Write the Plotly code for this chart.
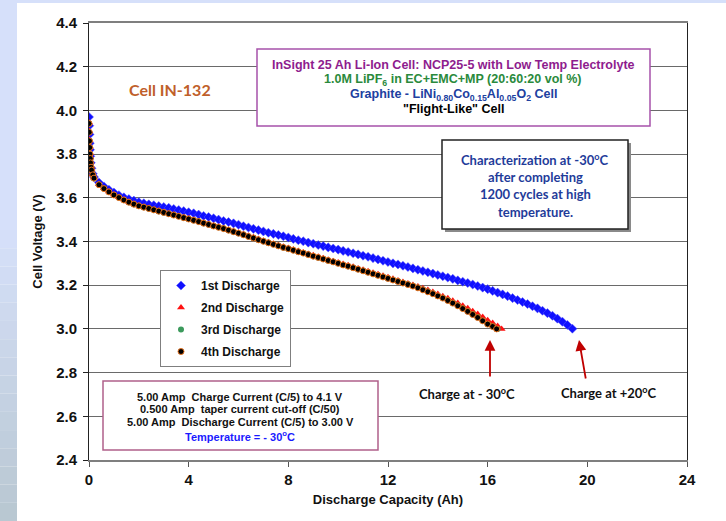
import plotly.graph_objects as go

# ---------------- data ----------------
cap_1st = [0.00, 0.01, 0.02, 0.03, 0.04, 0.05, 0.07, 0.10, 0.15, 0.20,
           0.4, 0.6, 0.8, 1.0, 1.2, 1.4, 1.6, 1.8, 2.0, 2.2, 2.4, 2.6, 2.8, 3.0,
           3.2, 3.4, 3.6, 3.8, 4.0, 4.2, 4.4, 4.6, 4.8, 5.0, 5.2, 5.4, 5.6, 5.8,
           6.0, 6.2, 6.4, 6.6, 6.8, 7.0, 7.2, 7.4, 7.6, 7.8, 8.0, 8.2, 8.4, 8.6,
           8.8, 9.0, 9.2, 9.4, 9.6, 9.8, 10.0, 10.2, 10.4, 10.6, 10.8, 11.0, 11.2,
           11.4, 11.6, 11.8, 12.0, 12.2, 12.4, 12.6, 12.8, 13.0, 13.2, 13.4, 13.6,
           13.8, 14.0, 14.2, 14.4, 14.6, 14.8, 15.0, 15.2, 15.4, 15.6, 15.8, 16.0,
           16.2, 16.4, 16.6, 16.8, 17.0, 17.2, 17.4, 17.6, 17.8, 18.0, 18.2, 18.4,
           18.6, 18.8, 19.0, 19.2, 19.4]
volt_1st = [3.970, 3.930, 3.890, 3.850, 3.820, 3.790, 3.760, 3.735, 3.710, 3.695,
            3.670, 3.652, 3.637, 3.624, 3.612, 3.602, 3.594, 3.587, 3.580, 3.575,
            3.570, 3.566, 3.562, 3.558, 3.554, 3.549, 3.544, 3.539, 3.534, 3.529,
            3.523, 3.517, 3.512, 3.506, 3.500, 3.494, 3.489, 3.483, 3.477, 3.470,
            3.464, 3.458, 3.452, 3.446, 3.440, 3.435, 3.430, 3.424, 3.418, 3.412,
            3.406, 3.401, 3.395, 3.390, 3.384, 3.379, 3.373, 3.368, 3.363, 3.357,
            3.352, 3.346, 3.341, 3.335, 3.330, 3.324, 3.318, 3.312, 3.306, 3.300,
            3.295, 3.289, 3.283, 3.277, 3.271, 3.265, 3.259, 3.253, 3.247, 3.241,
            3.235, 3.229, 3.222, 3.216, 3.210, 3.203, 3.196, 3.189, 3.182, 3.174,
            3.166, 3.158, 3.150, 3.141, 3.132, 3.123, 3.114, 3.104, 3.094, 3.083,
            3.072, 3.060, 3.047, 3.033, 3.018, 3.001]

cap_cold = [0.00, 0.01, 0.02, 0.03, 0.04, 0.05, 0.06, 0.08, 0.10, 0.15, 0.20,
            0.4, 0.6, 0.8, 1.0, 1.2, 1.4, 1.6, 1.8, 2.0, 2.2, 2.4, 2.6, 2.8, 3.0,
            3.2, 3.4, 3.6, 3.8, 4.0, 4.2, 4.4, 4.6, 4.8, 5.0, 5.2, 5.4, 5.6, 5.8,
            6.0, 6.2, 6.4, 6.6, 6.8, 7.0, 7.2, 7.4, 7.6, 7.8, 8.0, 8.2, 8.4, 8.6,
            8.8, 9.0, 9.2, 9.4, 9.6, 9.8, 10.0, 10.2, 10.4, 10.6, 10.8, 11.0, 11.2,
            11.4, 11.6, 11.8, 12.0, 12.2, 12.4, 12.6, 12.8, 13.0, 13.2, 13.4, 13.6,
            13.8, 14.0, 14.2, 14.4, 14.6, 14.8, 15.0, 15.2, 15.4, 15.6, 15.8, 16.0,
            16.2]
cap_2nd_end = [16.4, 16.56]
cap_3rd_end = [16.4]
cap_4th_end = [16.36]

volt_2nd = [3.945, 3.905, 3.865, 3.835, 3.805, 3.785, 3.765, 3.745, 3.730, 3.707,
            3.692, 3.662, 3.644, 3.629, 3.615, 3.603, 3.592, 3.582, 3.573, 3.565,
            3.559, 3.553, 3.547, 3.541, 3.535, 3.529, 3.523, 3.517, 3.511, 3.505,
            3.499, 3.493, 3.486, 3.480, 3.473, 3.467, 3.461, 3.454, 3.447, 3.440,
            3.433, 3.426, 3.419, 3.411, 3.404, 3.397, 3.390, 3.383, 3.376, 3.370,
            3.363, 3.356, 3.350, 3.343, 3.337, 3.330, 3.323, 3.317, 3.310, 3.304,
            3.297, 3.291, 3.284, 3.277, 3.271, 3.264, 3.257, 3.250, 3.243, 3.236,
            3.229, 3.222, 3.215, 3.208, 3.201, 3.194, 3.186, 3.178, 3.169, 3.160,
            3.150, 3.140, 3.129, 3.118, 3.106, 3.094, 3.081, 3.068, 3.054, 3.040,
            3.027, 3.013, 3.000]
volt_3rd = [3.940, 3.900, 3.860, 3.830, 3.800, 3.780, 3.760, 3.740, 3.727, 3.705,
            3.690, 3.660, 3.642, 3.627, 3.613, 3.601, 3.590, 3.580, 3.571, 3.563,
            3.557, 3.551, 3.545, 3.539, 3.533, 3.527, 3.521, 3.515, 3.509, 3.503,
            3.497, 3.491, 3.484, 3.478, 3.471, 3.465, 3.459, 3.452, 3.445, 3.438,
            3.431, 3.423, 3.416, 3.408, 3.401, 3.394, 3.387, 3.380, 3.373, 3.367,
            3.360, 3.353, 3.347, 3.340, 3.333, 3.327, 3.320, 3.313, 3.307, 3.300,
            3.293, 3.287, 3.280, 3.273, 3.266, 3.259, 3.252, 3.245, 3.239, 3.232,
            3.225, 3.218, 3.211, 3.204, 3.197, 3.189, 3.180, 3.171, 3.162, 3.152,
            3.142, 3.131, 3.120, 3.108, 3.095, 3.082, 3.068, 3.054, 3.039, 3.024,
            3.012, 3.000]
volt_4th = [3.940, 3.900, 3.860, 3.830, 3.800, 3.780, 3.760, 3.740, 3.727, 3.705,
            3.690, 3.660, 3.642, 3.627, 3.613, 3.601, 3.590, 3.580, 3.571, 3.563,
            3.557, 3.551, 3.545, 3.539, 3.533, 3.527, 3.521, 3.515, 3.509, 3.503,
            3.497, 3.491, 3.484, 3.478, 3.471, 3.465, 3.459, 3.452, 3.445, 3.438,
            3.431, 3.423, 3.416, 3.408, 3.401, 3.394, 3.387, 3.380, 3.373, 3.367,
            3.360, 3.353, 3.347, 3.340, 3.333, 3.327, 3.320, 3.313, 3.307, 3.300,
            3.293, 3.287, 3.280, 3.273, 3.266, 3.259, 3.252, 3.245, 3.238, 3.231,
            3.224, 3.217, 3.210, 3.203, 3.196, 3.188, 3.179, 3.170, 3.161, 3.151,
            3.141, 3.130, 3.118, 3.106, 3.093, 3.080, 3.066, 3.052, 3.037, 3.022,
            3.011, 3.000]

series_names = ["1st Discharge", "2nd Discharge", "3rd Discharge", "4th Discharge"]
x_ticks = [0, 4, 8, 12, 16, 20, 24]
y_ticks = [2.4, 2.6, 2.8, 3.0, 3.2, 3.4, 3.6, 3.8, 4.0, 4.2, 4.4]

# ---------------- layout helpers (pixel -> paper) ----------------
W, H = 726, 521
L, R, T, B = 89, 687, 23, 460
def px(x):
    return (x - L) / (R - L)
def py(y):
    return (B - y) / (B - T)

ARIAL = "Liberation Sans, Arial, sans-serif"
CAL = "Lato, Carlito, Calibri, sans-serif"

fig = go.Figure()

fig.add_trace(go.Scatter(
    x=cap_1st, y=volt_1st, mode="markers", name="<b>" + series_names[0] + "</b>",
    legendgroup="a",
    marker=dict(symbol="diamond", size=7, color="#1010ff",
                line=dict(width=0.5, color="#5a5aff"))))
fig.add_trace(go.Scatter(
    x=cap_cold + cap_2nd_end, y=volt_2nd, mode="markers",
    name="<b>" + series_names[1] + "</b>", legendgroup="b",
    marker=dict(symbol="triangle-up", size=7, color="#ff1010")))
fig.add_trace(go.Scatter(
    x=cap_cold + cap_3rd_end, y=volt_3rd, mode="markers",
    name="<b>" + series_names[2] + "</b>", legendgroup="c",
    marker=dict(symbol="circle", size=6, color="#3c9a5c")))
fig.add_trace(go.Scatter(
    x=cap_cold + cap_4th_end, y=volt_4th, mode="markers",
    name="<b>" + series_names[3] + "</b>", legendgroup="d",
    marker=dict(symbol="circle", size=6, color="#000000",
                line=dict(width=1, color="#e8731e"))))

shapes = []
# background frame (light blue strips on top and left)
shapes.append(dict(type="rect", xref="paper", yref="paper", layer="below",
                   x0=px(0), x1=px(W), y0=py(0), y1=py(3),
                   fillcolor="#d6e0fa", line=dict(width=0)))
top_c = (214, 224, 250)
bot_c = (184, 199, 209)
nb = 16
y_start = 230
shapes.append(dict(type="rect", xref="paper", yref="paper", layer="below",
                   x0=px(0), x1=px(17), y0=py(y_start), y1=py(0),
                   fillcolor="#d6e0fa", line=dict(width=0)))
for i in range(nb):
    y0 = y_start + (H - y_start) * i / nb
    y1 = y_start + (H - y_start) * (i + 1) / nb
    f = (i + 0.5) / nb
    c = tuple(int(round(top_c[k] + (bot_c[k] - top_c[k]) * f)) for k in range(3))
    shapes.append(dict(type="rect", xref="paper", yref="paper", layer="below",
                       x0=px(0), x1=px(17), y0=py(y1), y1=py(y0),
                       fillcolor="rgb(%d,%d,%d)" % c, line=dict(width=0)))

# title box
shapes.append(dict(type="rect", xref="paper", yref="paper", layer="above",
                   x0=px(257), x1=px(650), y0=py(126), y1=py(49),
                   fillcolor="white", line=dict(color="#a652ab", width=1.5)))
# characterization box with shadow
shapes.append(dict(type="rect", xref="paper", yref="paper", layer="above",
                   x0=px(445), x1=px(631), y0=py(232), y1=py(143),
                   fillcolor="#8a8a8a", line=dict(width=0)))
shapes.append(dict(type="rect", xref="paper", yref="paper", layer="above",
                   x0=px(442), x1=px(628), y0=py(229), y1=py(140),
                   fillcolor="white", line=dict(color="#222222", width=1.5)))
# conditions box
shapes.append(dict(type="rect", xref="paper", yref="paper", layer="above",
                   x0=px(103), x1=px(378), y0=py(450), y1=py(381),
                   fillcolor="white", line=dict(color="#b0608a", width=1.5)))

ann = []
def txt(x, y, s, size, color, family=ARIAL):
    ann.append(dict(xref="paper", yref="paper", x=px(x), y=py(y), text=s,
                    showarrow=False, xanchor="center", yanchor="middle",
                    font=dict(family=family, size=size, color=color)))

txt(453, 65, "<b>InSight 25 Ah Li-Ion Cell: NCP25-5 with Low Temp Electrolyte</b>", 12.5, "#8e1c8e")
txt(453, 80, "<b>1.0M LiPF<sub>6</sub> in EC+EMC+MP (20:60:20 vol %)</b>", 12.5, "#2a8a3c")
txt(453, 95, "<b>Graphite - LiNi<sub>0.80</sub>Co<sub>0.15</sub>Al<sub>0.05</sub>O<sub>2</sub> Cell</b>", 12.5, "#2040a0")
txt(453, 109, "<b>\"Flight-Like\" Cell</b>", 12.5, "#000000")

txt(535, 159, "<b>Characterization at -30<sup>o</sup>C</b>", 13, "#1f3c9a", CAL)
txt(535, 177, "<b>after completing</b>", 13, "#1f3c9a", CAL)
txt(535, 194, "<b>1200 cycles at high</b>", 13, "#1f3c9a", CAL)
txt(535, 212, "<b>temperature.</b>", 13, "#1f3c9a", CAL)

txt(240, 397, "<b>5.00 Amp  Charge Current (C/5) to 4.1 V</b>", 11, "#111111")
txt(240, 409, "<b>0.500 Amp  taper current cut-off (C/50)</b>", 11, "#111111")
txt(240, 422, "<b>5.00 Amp  Discharge Current (C/5) to 3.00 V</b>", 11, "#111111")
txt(240, 436, "<b>Temperature = - 30<sup>o</sup>C</b>", 11, "#1a1aff")

txt(170, 90, "<b>Cell IN-132</b>", 16, "#c0602a", CAL)

txt(467, 393, "<b>Charge at - 30<sup>o</sup>C</b>", 13, "#111111", CAL)
txt(609, 392, "<b>Charge at +20<sup>o</sup>C</b>", 13, "#111111", CAL)

# arrows
for hx, hy, tx, ty in [(490, 340, 490, 378), (579, 340, 586, 380)]:
    ann.append(dict(xref="paper", yref="paper", x=px(hx), y=py(hy), text="",
                    showarrow=True, ax=tx - hx, ay=ty - hy, axref="pixel", ayref="pixel",
                    arrowhead=2, arrowsize=1.2, arrowwidth=1.8, arrowcolor="#c00000"))

fig.update_layout(
    width=W, height=H,
    margin=dict(l=L, r=W - R, t=T, b=H - B, pad=0),
    paper_bgcolor="white", plot_bgcolor="white",
    shapes=shapes, annotations=ann,
    showlegend=True,
    legend=dict(x=px(160), y=py(270), xanchor="left", yanchor="top",
                bgcolor="white", bordercolor="#7f7f7f", borderwidth=1,
                font=dict(family=ARIAL, size=12, color="#111111"),
                tracegroupgap=3, itemwidth=30),
    xaxis=dict(range=[0, 24], tickvals=x_ticks,
               ticktext=["<b>%d</b>" % v for v in x_ticks],
               ticks="outside", ticklen=5, tickcolor="#555555",
               showline=True, linecolor="#7f7f7f", linewidth=1.5, mirror=True,
               showgrid=False, zeroline=False,
               tickfont=dict(family=ARIAL, size=15, color="#111111"),
               title=dict(text="<b>Discharge Capacity (Ah)</b>", standoff=8,
                          font=dict(family=ARIAL, size=13, color="#111111"))),
    yaxis=dict(range=[2.4, 4.4], tickvals=y_ticks,
               ticktext=["<b>%.1f</b>" % v for v in y_ticks],
               ticks="outside", ticklen=5, tickcolor="#222222", ticklabelstandoff=3,
               showline=True, linecolor="#222222", linewidth=1, mirror=True,
               showgrid=True, gridcolor="#6a6a6a", gridwidth=1, zeroline=False,
               tickfont=dict(family=ARIAL, size=15, color="#111111"),
               title=dict(text="<b>Cell Voltage (V)</b>", standoff=10,
                          font=dict(family=ARIAL, size=13, color="#111111"))),
)

fig.write_html("out.html", config={"displayModeBar": False},
               post_script="document.body.style.margin='0px';"
                           "document.body.style.overflow='hidden';"
                           "document.documentElement.style.overflow='hidden';")
